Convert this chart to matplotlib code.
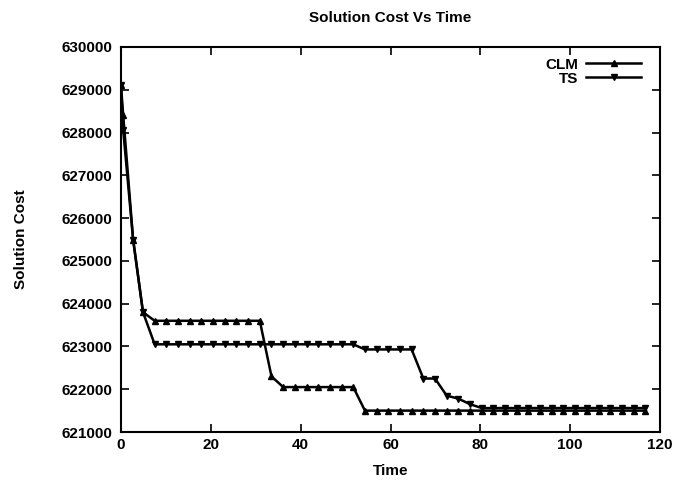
import matplotlib
matplotlib.use("Agg")
import matplotlib.pyplot as plt

# sample times (shared by both runs)
time = [0, 0.5, 2.7, 4.9, 7.5, 10.1, 12.7, 15.3, 17.9, 20.5, 23.1, 25.7, 28.3, 30.9,
        33.5, 36.1, 38.7, 41.3, 43.9, 46.5, 49.1, 51.7, 54.3, 56.9, 59.5, 62.1, 64.7,
        67.3, 69.9, 72.5, 75.1, 77.7, 80.3, 82.9, 85.5, 88.1, 90.7, 93.3, 95.9, 98.5,
        101.1, 103.7, 106.3, 108.9, 111.5, 114.1, 116.7]

clm_cost = [629100, 628400, 625500, 623800,
            623600, 623600, 623600, 623600, 623600, 623600, 623600, 623600, 623600, 623600,
            622300,
            622050, 622050, 622050, 622050, 622050, 622050, 622050,
            621500, 621500, 621500, 621500, 621500, 621500, 621500, 621500, 621500,
            621500, 621500, 621500, 621500, 621500, 621500, 621500, 621500, 621500,
            621500, 621500, 621500, 621500, 621500, 621500, 621500]

ts_cost = [629100, 628050, 625500, 623800,
           623050, 623050, 623050, 623050, 623050, 623050, 623050, 623050, 623050,
           623050, 623050, 623050, 623050, 623050, 623050, 623050, 623050, 623050,
           622930, 622930, 622930, 622930, 622930,
           622250, 622250, 621850, 621780, 621650,
           621560, 621560, 621560, 621560, 621560, 621560, 621560, 621560, 621560,
           621560, 621560, 621560, 621560, 621560, 621560]

plt.rcParams['font.family'] = ['Liberation Sans', 'DejaVu Sans']
plt.rcParams['font.weight'] = 'bold'

fig = plt.figure(figsize=(6.77, 4.86), dpi=100)
ax = fig.add_axes([0.1787, 0.1111, 0.7963, 0.7922])

ax.plot(time, clm_cost, color='black', lw=1.8, marker='^', ms=5, label='CLM')
ax.plot(time, ts_cost, color='black', lw=1.8, marker='v', ms=5, label='TS')

ax.set_xlim(0, 120)
ax.set_ylim(621000, 630000)
ax.set_xticks(range(0, 121, 20))
ax.set_yticks(range(621000, 630001, 1000))
ax.tick_params(direction='in', length=6, width=1.2, top=True, right=True, labelsize=11)
ax.tick_params(axis='x', pad=4)
ax.tick_params(axis='y', pad=6)
for s in ax.spines.values():
    s.set_linewidth(1.5)

ax.set_title('Solution Cost Vs Time', fontsize=11, fontweight='bold', pad=18)
ax.set_xlabel('Time', fontsize=11, fontweight='bold', labelpad=9)
ax.set_ylabel('Solution Cost', fontsize=11, fontweight='bold', labelpad=24)

ax.legend(loc='upper right', frameon=False, markerfirst=False, fontsize=11,
          handlelength=3.6, handletextpad=0.5, labelspacing=0.0, borderaxespad=0.3,
          bbox_to_anchor=(0.985, 1.0))

fig.savefig('out.png', dpi=100)
